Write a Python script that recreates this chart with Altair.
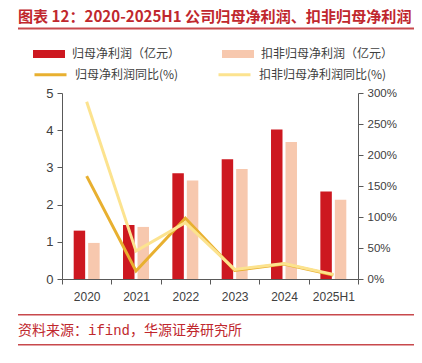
import altair as alt
import pandas as pd

# ---------------- data ----------------
years = ["2020", "2021", "2022", "2023", "2024", "2025H1"]
net_profit = [1.30, 1.45, 2.84, 3.22, 4.02, 2.35]            # 归母净利润（亿元）
net_profit_deducted = [0.97, 1.40, 2.65, 2.96, 3.68, 2.13]   # 扣非归母净利润（亿元）
net_profit_yoy = [166, 13, 98, 14, 24, 6.5]                  # 归母净利润同比(%)
deducted_yoy = [286, 45, 91, 15.5, 25, 7.5]                  # 扣非归母净利润同比(%)

bar_series = ["归母净利润（亿元）", "扣非归母净利润（亿元）"]
line_series = ["归母净利润同比(%)", "扣非归母净利润同比(%)"]
left_ticks = [0, 1, 2, 3, 4, 5]
right_ticks = [0, 50, 100, 150, 200, 250, 300]

title_text = "图表 12：2020-2025H1 公司归母净利润、扣非归母净利润"
source_text = "资料来源：ifind，华源证券研究所"

bars_df = pd.DataFrame({
    "year": years * 2,
    "series": [bar_series[0]] * len(years) + [bar_series[1]] * len(years),
    "value": net_profit + net_profit_deducted,
})
lines_df = pd.DataFrame({
    "year": years * 2,
    "series": [line_series[0]] * len(years) + [line_series[1]] * len(years),
    "pct": net_profit_yoy + deducted_yoy,
})
dummy = pd.DataFrame({"k": [0]})

# ---------------- styles ----------------
RED_BAR = "#CD1820"
PEACH_BAR = "#F7C8AE"
GOLD_LINE = "#E8B030"
LIGHT_LINE = "#FCE38F"
TITLE_RED = "#C0272D"
RULE_RED = "#C8494D"
AXIS_GRAY = "#595959"
LABEL_GRAY = "#404040"
CJK = "Noto Sans CJK SC"
SRC_FONT = "Liberation Mono, Noto Sans CJK SC"

x_scale = alt.Scale(domain=years, paddingInner=0, paddingOuter=0)
x_axis = alt.Axis(title=None, labelAngle=0, tickBand="extent", tickSize=5,
                  domainColor=AXIS_GRAY, tickColor=AXIS_GRAY,
                  labelFont="Liberation Sans", labelFontSize=12,
                  labelColor=LABEL_GRAY, labelPadding=7)

bars = alt.Chart(bars_df).mark_bar().encode(
    x=alt.X("year:N", sort=years, scale=x_scale, axis=x_axis),
    xOffset=alt.XOffset("series:N", sort=bar_series,
                        scale=alt.Scale(domain=bar_series, paddingInner=0.207,
                                        paddingOuter=0.807)),
    y=alt.Y("value:Q", scale=alt.Scale(domain=[0, 5], nice=False),
            axis=alt.Axis(orient="left", values=left_ticks, grid=False, title=None,
                          tickSize=5, domainColor=AXIS_GRAY, tickColor=AXIS_GRAY,
                          labelFont="Liberation Sans", labelFontSize=13,
                          labelColor=LABEL_GRAY, labelPadding=4)),
    color=alt.Color("series:N",
                    scale=alt.Scale(domain=bar_series, range=[RED_BAR, PEACH_BAR]),
                    legend=alt.Legend(orient="none", legendX=-29, legendY=-55,
                                      direction="horizontal", columns=2, title=None,
                                      symbolType="M-1,-0.25H1V0.25H-1Z",
                                      symbolSize=1024, symbolStrokeWidth=0,
                                      labelFont=CJK, labelFontSize=12,
                                      labelColor=LABEL_GRAY, labelOffset=7,
                                      columnPadding=41)),
)

line_base = alt.Chart(lines_df).mark_line(strokeWidth=3).encode(
    x=alt.X("year:N", sort=years, scale=x_scale, axis=x_axis),
    y=alt.Y("pct:Q", scale=alt.Scale(domain=[0, 300], nice=False),
            axis=alt.Axis(orient="right", values=right_ticks, grid=False, title=None,
                          labelExpr="datum.value + '%'",
                          tickSize=5, domainColor=AXIS_GRAY, tickColor=AXIS_GRAY,
                          labelFont="Liberation Sans", labelFontSize=11.5,
                          labelColor=LABEL_GRAY, labelPadding=4)),
    stroke=alt.Stroke("series:N",
                      scale=alt.Scale(domain=line_series, range=[GOLD_LINE, LIGHT_LINE]),
                      legend=alt.Legend(orient="none", legendX=-29, legendY=-36,
                                        direction="horizontal", columns=2, title=None,
                                        symbolType="stroke", symbolSize=1024,
                                        symbolStrokeWidth=3,
                                        labelFont=CJK, labelFontSize=12,
                                        labelColor=LABEL_GRAY, labelOffset=7,
                                        columnPadding=33)),
)
gold = line_base.transform_filter(alt.datum.series == line_series[0])
light = line_base.transform_filter(alt.datum.series == line_series[1])
lines = alt.layer(gold, light)

# ---------------- decorations (title, rules, source) ----------------
title = alt.Chart(dummy).mark_text(
    text=title_text, align="left", baseline="middle", font=CJK,
    fontSize=15.1, fontWeight="bold", color=TITLE_RED,
).encode(x=alt.value(-44), y=alt.value(-76))

title_rule = alt.Chart(dummy).mark_rule(color=RULE_RED, strokeWidth=2).encode(
    x=alt.value(-44), x2=alt.value(352), y=alt.value(-64.5))

src_rule_top = alt.Chart(dummy).mark_rule(color=RULE_RED, strokeWidth=1.5).encode(
    x=alt.value(-44), x2=alt.value(352), y=alt.value(221.7))
src_rule_bot = alt.Chart(dummy).mark_rule(color=RULE_RED, strokeWidth=1.5).encode(
    x=alt.value(-44), x2=alt.value(352), y=alt.value(251.7))

source = alt.Chart(dummy).mark_text(
    text=source_text, align="left", baseline="middle", font=SRC_FONT,
    fontSize=14, color=TITLE_RED,
).encode(x=alt.value(-44), y=alt.value(237.7))

main = alt.layer(bars, lines).resolve_scale(y="independent")

chart = alt.layer(
    main, title, title_rule, src_rule_top, src_rule_bot, source
).properties(
    width=296, height=186,
    padding={"left": 54, "top": 85, "right": 56, "bottom": 76},
    autosize=alt.AutoSizeParams(type="none"),
).configure_view(strokeWidth=0)

chart.save("out.html", embed_options={"renderer": "svg", "actions": False})
